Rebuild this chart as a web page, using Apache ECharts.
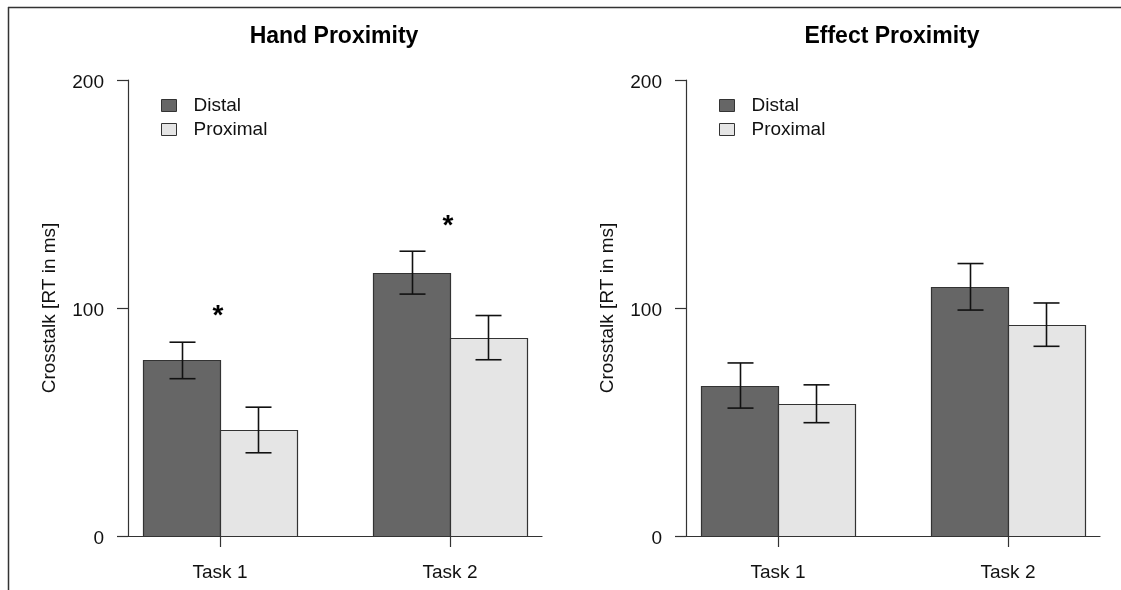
<!DOCTYPE html>
<html>
<head>
<meta charset="utf-8">
<script src="https://cdn.jsdelivr.net/npm/echarts@6/dist/echarts.min.js"></script>
<style>
  html, body { margin: 0; padding: 0; background: #fff; }
  #chart { width: 1121px; height: 590px; }
</style>
</head>
<body>
<div id="chart"></div>
<script>
// values
const tasks = ['Task 1', 'Task 2'];
const legendNames = ['Distal', 'Proximal'];

const handDistal = [77, 115.5];
const handDistalErr = [8, 9.4];
const handProximal = [46.5, 87];
const handProximalErr = [10, 9.7];
const handStars = [96.5, 136]; // height of the "*" marks

const effectDistal = [66, 109.3];
const effectDistalErr = [9.9, 10.2];
const effectProximal = [58, 92.7];
const effectProximalErr = [8.3, 9.5];

const yTicks = [0, 100, 200];

const FONT = '"Liberation Sans", Arial, sans-serif';
const DARK = '#666666';
const LIGHT = '#e5e5e5';

// barplot layout: two bars of width 1 per group, a gap of 1 between groups
const centers = tasks.map((t, i) => 2 + 3 * i);
const barData = (vals, errs, j) => vals.map((v, i) => [1 + 3 * i + j, v, errs[i]]);

function renderBar(params, api) {
  const left = api.value(0);
  const val = api.value(1);
  const err = api.value(2);
  const p0 = api.coord([left, val]);
  const p1 = api.coord([left + 1, 0]);
  const top = api.coord([left + 0.5, val + err]);
  const bot = api.coord([left + 0.5, val - err]);
  const cx = Math.round(top[0]) + 0.5;
  const cap = 13;
  const line = { stroke: '#111', lineWidth: 1.6 };
  return {
    type: 'group',
    children: [
      {
        type: 'rect',
        shape: { x: Math.round(p0[0]) + 0.5, y: Math.round(p0[1]) + 0.5, width: Math.round(p1[0] - p0[0]), height: Math.round(p1[1] - p0[1]) },
        style: { fill: api.visual('color'), stroke: '#333', lineWidth: 1.2 }
      },
      { type: 'line', shape: { x1: cx, y1: top[1], x2: cx, y2: bot[1] }, style: line },
      { type: 'line', shape: { x1: cx - cap, y1: top[1], x2: cx + cap, y2: top[1] }, style: line },
      { type: 'line', shape: { x1: cx - cap, y1: bot[1], x2: cx + cap, y2: bot[1] }, style: line }
    ]
  };
}

function renderStar(params, api) {
  const p = api.coord([api.value(0), api.value(1)]);
  return {
    type: 'text',
    x: p[0] - 2, y: p[1],
    style: { text: '*', fill: '#000', font: 'bold 28px ' + FONT, align: 'center', verticalAlign: 'middle' }
  };
}

function panel(idx, left, title) {
  const gridW = 414;
  return {
    grid: { left: left, top: 80, width: gridW, height: 456 },
    title: {
      text: title, left: left + gridW / 2 - 6, top: 20, textAlign: 'center',
      textStyle: { fontFamily: FONT, fontSize: 23, fontWeight: 'bold', color: '#000' }
    },
    legend: {
      orient: 'vertical', left: left + 33, top: 96, padding: 0, itemGap: 5,
      itemWidth: 15, itemHeight: 12, icon: 'rect',
      data: legendNames.map((n, k) => ({
        name: n,
        itemStyle: { color: k === 0 ? DARK : LIGHT, borderColor: '#333', borderWidth: 1 }
      })),
      textStyle: { fontFamily: FONT, fontSize: 19, color: '#111', padding: [3, 0, 0, 12] }
    },
    xAxis: {
      type: 'value', gridIndex: idx, min: 0.8, max: 6.2,
      axisLine: { show: true, lineStyle: { color: '#333', width: 1.2 } },
      splitLine: { show: false },
      axisTick: { show: true, length: 11, customValues: centers, lineStyle: { color: '#333', width: 1.2 } },
      axisLabel: {
        customValues: centers, margin: 27,
        formatter: (v) => tasks[Math.round((v - 2) / 3)],
        fontFamily: FONT, fontSize: 19, color: '#111'
      }
    },
    yAxis: {
      type: 'value', gridIndex: idx, min: 0, max: 200, interval: 100,
      name: 'Crosstalk [RT in ms]', nameLocation: 'middle', nameGap: 69,
      nameTextStyle: { fontFamily: FONT, fontSize: 19, color: '#111' },
      axisLine: { show: true, lineStyle: { color: '#333', width: 1.2 } },
      splitLine: { show: false },
      axisTick: { show: true, length: 11, lineStyle: { color: '#333', width: 1.2 } },
      axisLabel: {
        margin: 24, color: '#111',
        formatter: (v) => (yTicks.includes(v) ? '{t|' + v + '}' : ''),
        rich: { t: { fontFamily: FONT, fontSize: 19, color: '#111', padding: [6, 0, 0, 0] } }
      }
    }
  };
}

const L = panel(0, 128, 'Hand Proximity');
const R = panel(1, 686, 'Effect Proximity');

const series = [
  { name: 'Distal', type: 'custom', xAxisIndex: 0, yAxisIndex: 0, color: DARK, renderItem: renderBar, data: barData(handDistal, handDistalErr, 0) },
  { name: 'Proximal', type: 'custom', xAxisIndex: 0, yAxisIndex: 0, color: LIGHT, renderItem: renderBar, data: barData(handProximal, handProximalErr, 1) },
  { name: 'sig', type: 'custom', xAxisIndex: 0, yAxisIndex: 0, renderItem: renderStar, data: handStars.map((h, i) => [centers[i], h]) },
  { name: 'Distal', type: 'custom', xAxisIndex: 1, yAxisIndex: 1, color: DARK, renderItem: renderBar, data: barData(effectDistal, effectDistalErr, 0) },
  { name: 'Proximal', type: 'custom', xAxisIndex: 1, yAxisIndex: 1, color: LIGHT, renderItem: renderBar, data: barData(effectProximal, effectProximalErr, 1) }
];

const chart = echarts.init(document.getElementById('chart'), null, { renderer: 'canvas' });
chart.setOption({
  animation: false,
  backgroundColor: '#fff',
  textStyle: { fontFamily: FONT },
  title: [L.title, R.title],
  legend: [L.legend, R.legend],
  grid: [L.grid, R.grid],
  xAxis: [L.xAxis, R.xAxis],
  yAxis: [L.yAxis, R.yAxis],
  series: series,
  graphic: [
    { type: 'line', shape: { x1: 8, y1: 7.5, x2: 1121, y2: 7.5 }, style: { stroke: '#333', lineWidth: 1.5 } },
    { type: 'line', shape: { x1: 8.5, y1: 7, x2: 8.5, y2: 590 }, style: { stroke: '#333', lineWidth: 1.5 } }
  ]
});
window.addEventListener('resize', () => chart.resize());
</script>
</body>
</html>
